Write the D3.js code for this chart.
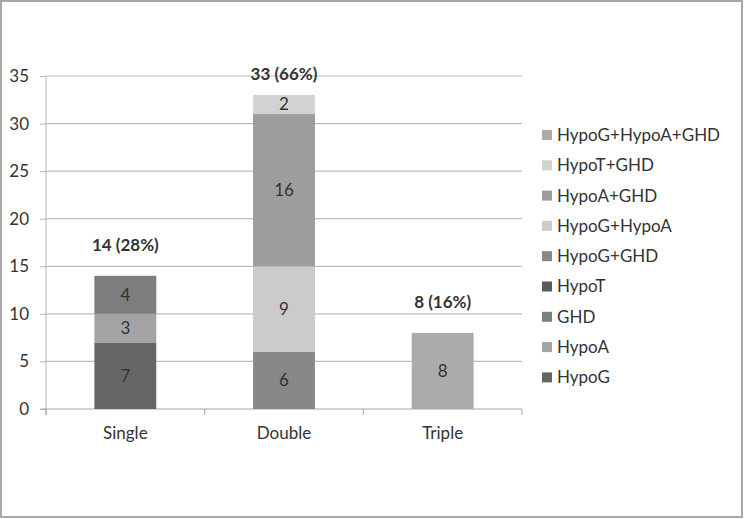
<!DOCTYPE html>
<html>
<head>
<meta charset="utf-8">
<script src="https://cdn.jsdelivr.net/npm/d3@7"></script>
<style>
  body { margin: 0; background: #fff; }
  text { font-family: Lato, "Open Sans", sans-serif; fill: #333; }
</style>
</head>
<body>
<script>
// categories and series (stack order bottom -> top)
var categories = ["Single", "Double", "Triple"];
var series = ["HypoG", "HypoA", "GHD", "HypoT", "HypoG+GHD", "HypoG+HypoA", "HypoA+GHD", "HypoT+GHD", "HypoG+HypoA+GHD"];
var colors = ["#666666", "#a3a3a3", "#7d7d7d", "#5a5a5a", "#888888", "#cbcbcb", "#9d9d9d", "#d2d2d2", "#ababab"];
var HypoG = [7, 0, 0];
var HypoA = [3, 0, 0];
var GHD = [4, 0, 0];
var HypoT = [0, 0, 0];
var HypoG_GHD = [0, 6, 0];
var HypoG_HypoA = [0, 9, 0];
var HypoA_GHD = [0, 16, 0];
var HypoT_GHD = [0, 2, 0];
var HypoG_HypoA_GHD = [0, 0, 8];
var totalLabels = ["14 (28%)", "33 (66%)", "8 (16%)"];
var yTicks = [0, 5, 10, 15, 20, 25, 30, 35];

var seriesValues = [HypoG, HypoA, GHD, HypoT, HypoG_GHD, HypoG_HypoA, HypoA_GHD, HypoT_GHD, HypoG_HypoA_GHD];

var data = categories.map(function(c, i) {
	var row = {name: c};
	series.forEach(function(s, j) { row[s] = seriesValues[j][i]; });
	return row;
});

var W = 744, H = 519;
var margin = {top: 76, left: 46, right: 222, bottom: 110};
var width = W - margin.left - margin.right,
	height = H - margin.top - margin.bottom;

var svg = d3.select("body").append("svg")
	.attr("width", W)
	.attr("height", H);

// outer frame
svg.append("rect")
	.attr("x", 1).attr("y", 1)
	.attr("width", W - 3).attr("height", H - 3)
	.attr("fill", "#fff")
	.attr("stroke", "#a8a8a8")
	.attr("stroke-width", 2);

var g = svg.append("g")
	.attr("transform", "translate(" + margin.left + "," + margin.top + ")");

var x = d3.scaleBand()
	.domain(categories)
	.range([0, width])
	.paddingInner(0)
	.paddingOuter(0);

var y = d3.scaleLinear()
	.domain([0, 35])
	.range([height, 0]);

// gridlines
g.selectAll(".grid")
	.data(yTicks.filter(function(d) { return d > 0; }))
	.enter().append("line")
	.attr("x1", 0).attr("x2", width)
	.attr("y1", function(d) { return y(d); })
	.attr("y2", function(d) { return y(d); })
	.attr("stroke", "#bdbdbd")
	.attr("stroke-width", 1.2);

// y axis
var yAxis = g.append("g")
	.call(d3.axisLeft(y).tickValues(yTicks).tickSize(6).tickPadding(11));
yAxis.select(".domain").attr("stroke", "#b5b5b5").attr("d", "M0," + y(35) + "V" + (height + 6));
yAxis.selectAll(".tick line").attr("stroke", "#b5b5b5");
yAxis.selectAll("text").style("font-size", "17px").attr("fill", "#333");

// x axis
var xAxis = g.append("g")
	.attr("transform", "translate(0," + height + ")")
	.call(d3.axisBottom(x).tickSize(0).tickPadding(18));
xAxis.select(".domain").attr("stroke", "#a5a5a5").attr("d", "M-5,0H" + width);
xAxis.selectAll("text").style("font-size", "17px").attr("fill", "#333");
g.selectAll(".xtick")
	.data(d3.range(categories.length + 1))
	.enter().append("line")
	.attr("x1", function(i) { return i * x.step(); })
	.attr("x2", function(i) { return i * x.step(); })
	.attr("y1", height).attr("y2", height + 6)
	.attr("stroke", "#a5a5a5");

// stacked bars
var stack = d3.stack().keys(series);
var layers = stack(data);
var barW = x.bandwidth() * 0.39;

var layer = g.selectAll(".layer")
	.data(layers)
	.enter().append("g")
	.attr("fill", function(d, i) { return colors[i]; });

layer.selectAll("rect")
	.data(function(d) { return d.filter(function(p) { return p[1] > p[0]; }); })
	.enter().append("rect")
	.attr("x", function(d) { return x(d.data.name) + (x.bandwidth() - barW) / 2; })
	.attr("y", function(d) { return y(d[1]); })
	.attr("width", barW)
	.attr("height", function(d) { return y(d[0]) - y(d[1]); });

layer.selectAll("text")
	.data(function(d) { return d.filter(function(p) { return p[1] > p[0]; }); })
	.enter().append("text")
	.attr("x", function(d) { return x(d.data.name) + x.bandwidth() / 2; })
	.attr("y", function(d) { return (y(d[0]) + y(d[1])) / 2; })
	.attr("dy", "0.35em")
	.attr("text-anchor", "middle")
	.style("font-size", "17px")
	.text(function(d) { return d[1] - d[0]; });

// totals
var totals = data.map(function(d) { return d3.sum(series, function(s) { return d[s]; }); });
g.selectAll(".total")
	.data(categories)
	.enter().append("text")
	.attr("x", function(d) { return x(d) + x.bandwidth() / 2; })
	.attr("y", function(d, i) { return Math.max(y(totals[i]) - 25, 4); })
	.attr("text-anchor", "middle")
	.style("font-size", "17px")
	.style("font-weight", "bold")
	.text(function(d, i) { return totalLabels[i]; });

// legend (reverse order, top = last series)
var legend = svg.append("g")
	.attr("transform", "translate(542,135)");
var items = legend.selectAll(".item")
	.data(series.slice().reverse())
	.enter().append("g")
	.attr("transform", function(d, i) { return "translate(0," + (i * 30.3) + ")"; });
items.append("rect")
	.attr("x", 0).attr("y", -5)
	.attr("width", 10).attr("height", 10)
	.attr("fill", function(d) { return colors[series.indexOf(d)]; });
items.append("text")
	.attr("x", 15)
	.attr("dy", "0.35em")
	.style("font-size", "17px")
	.text(function(d) { return d; });
</script>
</body>
</html>
